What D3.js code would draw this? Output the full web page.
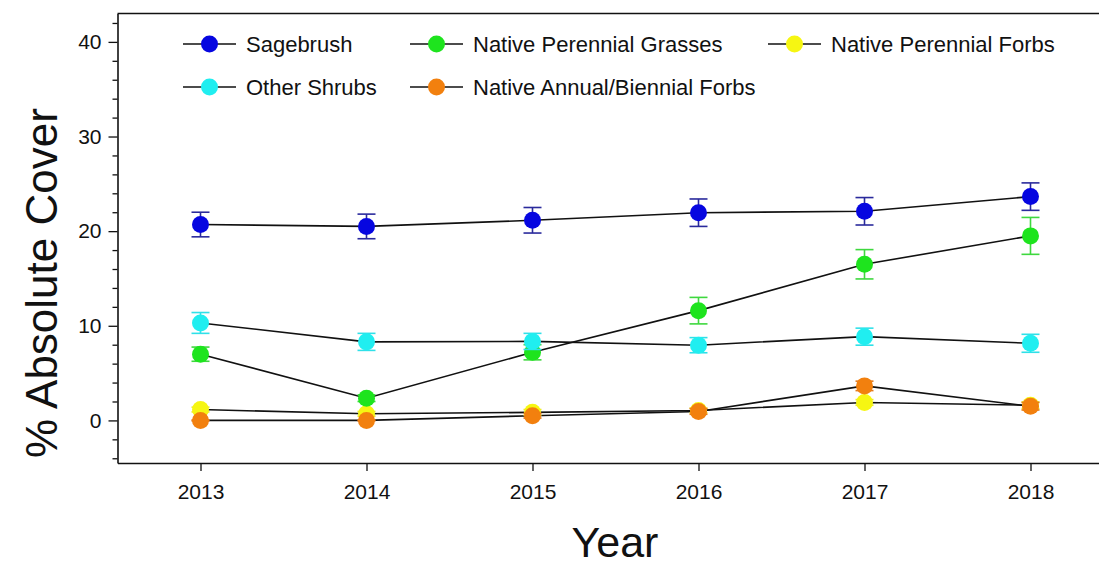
<!DOCTYPE html>
<html>
<head>
<meta charset="utf-8">
<script src="https://cdn.jsdelivr.net/npm/d3@7"></script>
<style>
  html, body { margin: 0; padding: 0; background: #fff; overflow: hidden; }
  svg { display: block; }
  text { font-family: "Liberation Sans", Arial, sans-serif; fill: #111; }
</style>
</head>
<body>
<svg id="chart" width="1099" height="570"></svg>
<script>
// Survey years
const years = [2013, 2014, 2015, 2016, 2017, 2018];

// Mean % absolute cover and standard error for each plant group
const sagebrush      = [20.7, 20.5, 21.15, 21.95, 22.1, 23.65];
const sagebrushSE    = [1.3, 1.3, 1.35, 1.45, 1.45, 1.45];
const grasses        = [7.0, 2.35, 7.2, 11.6, 16.5, 19.5];
const grassesSE      = [0.75, 0.35, 0.8, 1.4, 1.55, 1.95];
const otherShrubs    = [10.3, 8.3, 8.35, 7.95, 8.85, 8.15];
const otherShrubsSE  = [1.1, 0.9, 0.85, 0.8, 0.9, 0.95];
const perForbs       = [1.15, 0.7, 0.85, 1.05, 1.9, 1.6];
const perForbsSE     = [0.25, 0.25, 0.3, 0.25, 0.3, 0.35];
const annForbs       = [0.0, 0.0, 0.5, 0.95, 3.65, 1.5];
const annForbsSE     = [0.05, 0.05, 0.25, 0.3, 0.5, 0.4];

const yTicks = [0, 10, 20, 30, 40];

const series = [
  { name: "Native Perennial Forbs",        values: perForbs,    se: perForbsSE,    fill: "#f6f612", bar: "#e8e830" },
  { name: "Native Annual/Biennial Forbs",  values: annForbs,    se: annForbsSE,    fill: "#f2800e", bar: "#e07a20" },
  { name: "Native Perennial Grasses",      values: grasses,     se: grassesSE,     fill: "#1ee41e", bar: "#3ed83e" },
  { name: "Other Shrubs",                  values: otherShrubs, se: otherShrubsSE, fill: "#20eef0", bar: "#30e0e8" },
  { name: "Sagebrush",                     values: sagebrush,   se: sagebrushSE,   fill: "#0606e0", bar: "#2a2a9c" }
];

// Legend layout: [series name, column, row]
const legendItems = [
  ["Sagebrush", 0, 0], ["Native Perennial Grasses", 1, 0], ["Native Perennial Forbs", 2, 0],
  ["Other Shrubs", 0, 1], ["Native Annual/Biennial Forbs", 1, 1]
];

(function draw() {
  const svg = d3.select("#chart");
  const plotLeft = 117.5, plotTop = 13.5, plotBottom = 463;

  const x = d3.scaleLinear().domain([2012.5, 2018.5]).range([plotLeft, plotLeft + 6 * 166]);
  const y = d3.scaleLinear().domain([-4.5, 43]).range([plotBottom, plotTop]);

  // Frame: top edge
  svg.append("line")
    .attr("x1", plotLeft).attr("x2", 1099)
    .attr("y1", plotTop).attr("y2", plotTop)
    .attr("stroke", "#111").attr("stroke-width", 1.6);

  // Y axis with minor ticks
  const yMinor = d3.range(-4, 44, 2).filter(v => v % 10 !== 0);
  svg.append("g").attr("transform", `translate(${plotLeft},0)`)
    .call(d3.axisLeft(y).tickValues(yMinor).tickSize(5).tickFormat(""))
    .call(g => g.select(".domain").remove())
    .call(g => g.selectAll("line").attr("stroke", "#111").attr("stroke-width", 1.3));

  const yAxis = svg.append("g").attr("transform", `translate(${plotLeft},0)`)
    .call(d3.axisLeft(y).tickValues(yTicks).tickSize(9).tickPadding(7).tickSizeOuter(0));
  yAxis.select(".domain").attr("stroke", "#111").attr("stroke-width", 1.6);
  yAxis.selectAll(".tick line").attr("stroke", "#111").attr("stroke-width", 1.3);
  yAxis.selectAll("text").attr("font-size", 21).style("font-family", "Liberation Sans, Arial, sans-serif").attr("fill", "#111");

  // X axis
  const xAxis = svg.append("g").attr("transform", `translate(0,${plotBottom})`)
    .call(d3.axisBottom(x).tickValues(years).tickFormat(d3.format("d")).tickSize(8).tickPadding(13).tickSizeOuter(0));
  xAxis.select(".domain").attr("stroke", "#111").attr("stroke-width", 1.6);
  xAxis.selectAll(".tick line").attr("stroke", "#111").attr("stroke-width", 1.3);
  xAxis.selectAll("text").attr("font-size", 21).style("font-family", "Liberation Sans, Arial, sans-serif").attr("fill", "#111");

  // Axis titles
  svg.append("text")
    .attr("transform", `translate(57,283) rotate(-90)`)
    .attr("text-anchor", "middle").attr("font-size", 44)
    .text("% Absolute Cover");
  svg.append("text")
    .attr("x", 615).attr("y", 557)
    .attr("text-anchor", "middle").attr("font-size", 43)
    .text("Year");

  // Connecting lines
  const line = d3.line().x((d, i) => x(years[i])).y(d => y(d));
  const plot = svg.append("g");
  series.forEach(s => {
    plot.append("path").datum(s.values)
      .attr("d", line).attr("fill", "none")
      .attr("stroke", "#111").attr("stroke-width", 1.6);
  });

  // Error bars and markers
  const cap = 9, r = 8.5;
  series.forEach(s => {
    const g = plot.append("g");
    s.values.forEach((v, i) => {
      const cx = x(years[i]);
      const hi = y(v + s.se[i]), lo = y(v - s.se[i]);
      g.append("line").attr("x1", cx).attr("x2", cx).attr("y1", hi).attr("y2", lo)
        .attr("stroke", s.bar).attr("stroke-width", 1.6);
      g.append("line").attr("x1", cx - cap).attr("x2", cx + cap).attr("y1", hi).attr("y2", hi)
        .attr("stroke", s.bar).attr("stroke-width", 1.6);
      g.append("line").attr("x1", cx - cap).attr("x2", cx + cap).attr("y1", lo).attr("y2", lo)
        .attr("stroke", s.bar).attr("stroke-width", 1.6);
      g.append("circle").attr("cx", cx).attr("cy", y(v)).attr("r", r).attr("fill", s.fill);
    });
  });

  // Legend
  const colX = [183, 410, 768], rowY = [44, 87];
  const byName = Object.fromEntries(series.map(s => [s.name, s]));
  legendItems.forEach(([name, c, rr]) => {
    const s = byName[name];
    const g = svg.append("g").attr("transform", `translate(${colX[c]},${rowY[rr]})`);
    g.append("line").attr("x1", 0).attr("x2", 53).attr("y1", 0).attr("y2", 0)
      .attr("stroke", "#111").attr("stroke-width", 1.6);
    g.append("circle").attr("cx", 26.5).attr("cy", 0).attr("r", r).attr("fill", s.fill);
    g.append("text").attr("x", 63).attr("y", 8).attr("font-size", 22).text(name);
  });
})();
</script>
</body>
</html>
